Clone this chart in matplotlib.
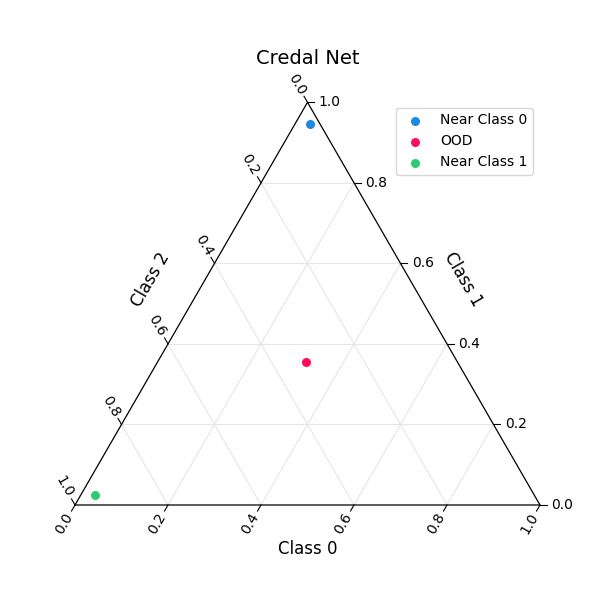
import numpy as np
import matplotlib
matplotlib.use("Agg")
import matplotlib.pyplot as plt

# ternary coordinates (class 0 = bottom axis, class 1 = right axis)
labels = ["Near Class 0", "OOD", "Near Class 1"]
class0 = [0.033, 0.32, 0.03]
class1 = [0.945, 0.354, 0.025]
colors = ["#1E88E5", "#FF0D57", "#2ECC71"]
ticks = [0.0, 0.2, 0.4, 0.6, 0.8, 1.0]

H = np.sqrt(3) / 2


def to_xy(c0, c1):
    c0 = np.asarray(c0, float)
    c1 = np.asarray(c1, float)
    return c0 + c1 / 2, c1 * H


fig = plt.figure(figsize=(6, 6), dpi=100)
ax = fig.add_axes([75 / 600, 95 / 600, 465 / 600, 465 * H / 600])
ax.set_xlim(0, 1)
ax.set_ylim(0, H)
ax.axis("off")

# grid
for t in ticks[1:-1]:
    x, y = to_xy([t, t], [0, 1 - t])
    ax.plot(x, y, color="#e6e6e6", lw=0.8, zorder=1)
    x, y = to_xy([0, 1 - t], [t, t])
    ax.plot(x, y, color="#e6e6e6", lw=0.8, zorder=1)
    x, y = to_xy([0, 1 - t], [1 - t, 0])
    ax.plot(x, y, color="#e6e6e6", lw=0.8, zorder=1)

# frame
ax.plot([0, 1, 0.5, 0], [0, 0, H, 0], color="black", lw=0.9, clip_on=False, zorder=2)

L = 0.015
for t in ticks:
    # bottom axis (class 0)
    x, y = to_xy(t, 0)
    d = np.array([-0.5, -H])
    ax.plot([x, x + L * d[0]], [y, y + L * d[1]], color="black", lw=0.8, clip_on=False)
    ax.text(x + 3 * L * d[0], y + 3 * L * d[1], f"{t:.1f}", rotation=60,
            ha="center", va="center", fontsize=10)
    # right axis (class 1)
    x, y = to_xy(1 - t, t)
    ax.plot([x, x + L], [y, y], color="black", lw=0.8, clip_on=False)
    ax.text(x + 1.6 * L, y, f"{t:.1f}", ha="left", va="center", fontsize=10)
    # left axis (class 2)
    x, y = to_xy(0, 1 - t)
    d = np.array([-0.5, H])
    ax.plot([x, x + L * d[0]], [y, y + L * d[1]], color="black", lw=0.8, clip_on=False)
    ax.text(x + 3 * L * d[0], y + 3 * L * d[1], f"{t:.1f}", rotation=-60,
            ha="center", va="center", fontsize=10)

ax.text(0.5, -0.095, "Class 0", ha="center", va="center", fontsize=12)
ax.text(0.835, 0.485, "Class 1", rotation=-60, ha="center", va="center", fontsize=12)
ax.text(0.162, 0.485, "Class 2", rotation=60, ha="center", va="center", fontsize=12)
ax.text(0.5, H + 0.095, "Credal Net", ha="center", va="center", fontsize=14)

for lab, a, b, c in zip(labels, class0, class1, colors):
    x, y = to_xy(a, b)
    ax.scatter(x, y, s=30, color=c, label=lab, zorder=3, clip_on=False)

ax.legend(loc="upper right", bbox_to_anchor=(540 / 600, 499 / 600),
          bbox_transform=fig.transFigure, fontsize=10)

fig.savefig("out.png", dpi=100)
